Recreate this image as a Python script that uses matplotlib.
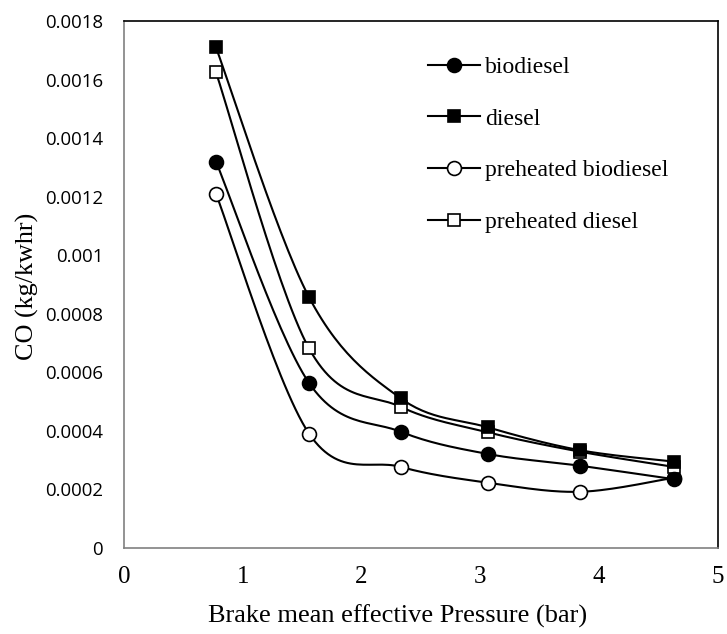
import numpy as np
import matplotlib
matplotlib.use("Agg")
import matplotlib.pyplot as plt
from matplotlib.lines import Line2D

bmep = [0.774, 1.557, 2.33, 3.064, 3.838, 4.63]
biodiesel = [0.00132, 0.000564, 0.000397, 0.000321, 0.000281, 0.000235]
diesel = [0.00171, 0.000857, 0.000511, 0.000412, 0.000334, 0.000295]
pre_biodiesel = [0.00121, 0.000391, 0.000277, 0.000223, 0.000192, 0.000240]
pre_diesel = [0.001625, 0.000682, 0.000482, 0.000395, 0.000329, 0.000277]

series = [
    ("biodiesel", biodiesel, "o", "black", 10, 4),
    ("diesel", diesel, "s", "black", 9.3, 4),
    ("preheated biodiesel", pre_biodiesel, "o", "white", 10, 3),
    ("preheated diesel", pre_diesel, "s", "white", 9.3, 3),
]

fig = plt.figure(figsize=(7.27, 6.34), dpi=100)
ax = fig.add_axes([124/727, 1-548/634, (718-124)/727, (548-21)/634])
ax.set_xlim(0, 5)
ax.set_ylim(0, 0.0018)

def smooth(xs, ys, n=30):
    pts = ax.transData.transform(np.column_stack([xs, ys]))
    out = []
    m = len(pts)
    for i in range(m - 1):
        p0 = pts[i - 1] if i > 0 else pts[i]
        p1 = pts[i]
        p2 = pts[i + 1]
        p3 = pts[i + 2] if i + 2 < m else pts[i + 1]
        c1 = p1 + (p2 - p0) / 6.0
        c2 = p2 - (p3 - p1) / 6.0
        t = np.linspace(0, 1, n)[:, None]
        seg = ((1-t)**3)*p1 + 3*((1-t)**2)*t*c1 + 3*(1-t)*t*t*c2 + t**3*p2
        out.append(seg if i == 0 else seg[1:])
    curve = np.vstack(out)
    return ax.transData.inverted().transform(curve)

handles = []
for name, vals, mk, fc, ms, z in series:
    c = smooth(bmep, vals)
    ax.plot(c[:, 0], c[:, 1], color="black", lw=1.5, zorder=2)
    ax.plot(bmep, vals, linestyle="none", marker=mk, markersize=ms,
            markerfacecolor=fc, markeredgecolor="black", markeredgewidth=1.2, zorder=z)
    handles.append(Line2D([0], [0], color="black", lw=1.5, marker=mk,
                          markersize=ms, markerfacecolor=fc, markeredgecolor="black",
                          markeredgewidth=1.2, label=name))

ax.set_xticks([0, 1, 2, 3, 4, 5])
ax.set_xticklabels(["0", "1", "2", "3", "4", "5"], fontfamily="Liberation Serif", fontsize=18)
yt = [0, 0.0002, 0.0004, 0.0006, 0.0008, 0.001, 0.0012, 0.0014, 0.0016, 0.0018]
ax.set_yticks(yt)
ax.set_yticklabels(["0", "0.0002", "0.0004", "0.0006", "0.0008", "0.001", "0.0012",
                    "0.0014", "0.0016", "0.0018"], fontfamily="Open Sans", fontsize=13.4)
ax.tick_params(length=0)
ax.tick_params(axis="x", pad=13)
ax.tick_params(axis="y", pad=15)

for s in ["left", "bottom"]:
    ax.spines[s].set_color("#808080")
    ax.spines[s].set_linewidth(1.2)
for s in ["top", "right"]:
    ax.spines[s].set_color("black")
    ax.spines[s].set_linewidth(1.2)

ax.set_xlabel("Brake mean effective Pressure (bar)", fontfamily="Liberation Serif",
              fontsize=19)
ax.xaxis.set_label_coords((398 - 124) / 594, (548 - 605) / 527)
ax.set_ylabel("CO (kg/kwhr)", fontfamily="Liberation Serif", fontsize=18.8)
ax.yaxis.set_label_coords((39 - 124) / 594, (548 - 286) / 527)

leg = ax.legend(handles=handles, loc="upper left", bbox_to_anchor=(0.496, 0.951),
                frameon=False, prop={"family": "Liberation Serif", "size": 17},
                handlelength=2.2, handletextpad=0.2, labelspacing=1.28,
                borderaxespad=0)

fig.savefig("out.png", dpi=100)
